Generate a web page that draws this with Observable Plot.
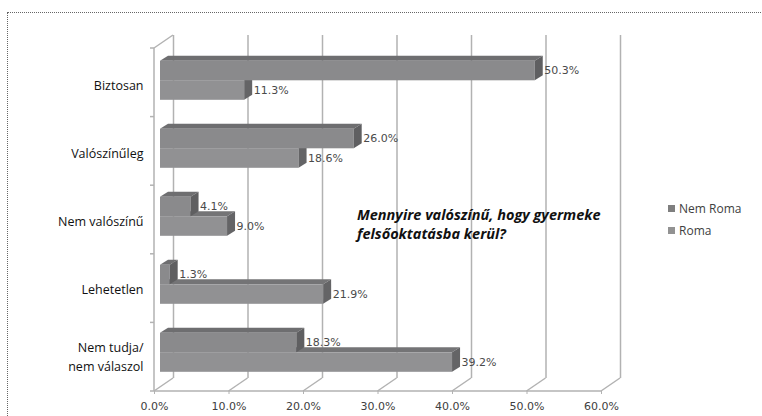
<!DOCTYPE html>
<html><head><meta charset="utf-8">
<script src="https://cdn.jsdelivr.net/npm/d3@7"></script>
<script src="https://cdn.jsdelivr.net/npm/@observablehq/plot@0.6"></script>
<style>
body{margin:0;background:#fff}
#wrap{position:relative;width:762px;height:416px;overflow:hidden}
#border{position:absolute;left:7px;top:12px;width:800px;height:500px;border:1px dotted #666;box-sizing:border-box}
#chart{position:absolute;left:0;top:0}
#title{position:absolute;left:357px;top:205px;font:italic bold 14.5px "Open Sans",sans-serif;line-height:19px;color:#111;white-space:nowrap}
#legend{position:absolute;left:668px;top:198px;font:12px "Open Sans",sans-serif;color:#404040}
#legend div{height:22px;line-height:22px;white-space:nowrap}
#legend span{display:inline-block;width:7px;height:7px;margin-right:4px;vertical-align:middle;position:relative;top:-1px}
</style></head>
<body><div id="wrap"><div id="border"></div><div id="chart"></div><div id="title"></div><div id="legend"></div></div>
<script>
const categories = ["Biztosan", "Valószínűleg", "Nem valószínű", "Lehetetlen", "Nem tudja/\nnem válaszol"];
const seriesNames = ["Nem Roma", "Roma"];
const nemRoma = [50.3, 26.0, 4.1, 1.3, 18.3];
const roma = [11.3, 18.6, 9.0, 21.9, 39.2];
const xTicks = [0, 10, 20, 30, 40, 50, 60];
const titleLines = ["Mennyire valószínű, hogy gyermeke", "felsőoktatásba kerül?"];

const rows = (vals, s) => categories.map((c, i) => ({category: c, series: s, value: vals[i]}));
const dataNem = rows(nemRoma, seriesNames[0]);
const dataRoma = rows(roma, seriesNames[1]);

const palette = {
  "Nem Roma": {front: "#8a8a8c", top: "#6e6e70", side: "#5f5f61", legend: "#7f7f7f"},
  "Roma": {front: "#919193", top: "#747476", side: "#646466", legend: "#929292"}
};

const W = 762, H = 416, mL = 154, mR = 161, mT = 48, mB = 25;
const WALL = [19, -13], PLANE = [6, -4], DEPTH = [8, -5];
const bw = (H - mT - mB) / categories.length;
const gap = 14.8 / 68.6, barFrac = 19.5 / 68.6;
const grid = "#b2b2b2";

function bar3d(pal, f0, f1) {
  return (index, scales, values, dim) => {
    const g = d3.create("svg:g");
    const band = (dim.height - dim.marginTop - dim.marginBottom) / categories.length;
    for (const i of index) {
      const X0 = values.x1[i] + PLANE[0], XE = values.x2[i] + PLANE[0];
      const yT = values.y[i] + band * f0 + PLANE[1], yB = values.y[i] + band * f1 + PLANE[1];
      const [dx, dy] = DEPTH;
      g.append("polygon").attr("fill", pal.top)
        .attr("points", [[X0, yT], [XE, yT], [XE + dx, yT + dy], [X0 + dx, yT + dy]].join(" "));
      g.append("rect").attr("fill", pal.front).attr("x", X0).attr("y", yT).attr("width", XE - X0).attr("height", yB - yT);
      g.append("polygon").attr("fill", pal.side)
        .attr("points", [[XE, yT], [XE + dx, yT + dy], [XE + dx, yB + dy], [XE, yB]].join(" "));
    }
    return g.node();
  };
}

const frameLines = (index, scales, values, dim) => {
  const g = d3.create("svg:g").attr("stroke", grid).attr("stroke-width", 1.5).attr("fill", "none");
  const yb = dim.height - dim.marginBottom, yt = dim.marginTop;
  const xs = Array.from(index, i => values.x[i]);
  const band = (yb - yt) / categories.length;
  for (const x of xs) {
    g.append("line").attr("x1", x).attr("y1", yb).attr("x2", x + WALL[0]).attr("y2", yb + WALL[1]);
  }
  g.append("line").attr("x1", xs[0]).attr("x2", xs[xs.length - 1]).attr("y1", yb).attr("y2", yb);
  g.append("line").attr("x1", xs[0]).attr("x2", xs[0]).attr("y1", yt).attr("y2", yb);
  g.append("line").attr("x1", xs[0]).attr("y1", yt).attr("x2", xs[0] + WALL[0]).attr("y2", yt + WALL[1]);
  for (let k = 0; k <= categories.length; k++) {
    g.append("line").attr("x1", xs[0] - 4).attr("x2", xs[0]).attr("y1", yt + k * band).attr("y2", yt + k * band);
  }
  return g.node();
};

const fmt = v => v.toFixed(1) + "%";
const labelDx = PLANE[0] + DEPTH[0] + 1;
const dyNem = bw * (gap + barFrac / 2) + PLANE[1] - bw / 2;
const dyRoma = bw * (gap + 1.5 * barFrac) + PLANE[1] - bw / 2;

const chart = Plot.plot({
  width: W, height: H,
  marginLeft: mL, marginRight: mR, marginTop: mT, marginBottom: mB,
  style: {fontFamily: "DejaVu Sans", fontSize: "11px", background: "transparent", overflow: "visible"},
  x: {domain: [0, 60]},
  y: {domain: categories, padding: 0},
  marks: [
    Plot.ruleX(xTicks, {x: d => d, stroke: grid, strokeWidth: 1.5, dx: WALL[0], dy: WALL[1]}),
    Plot.ruleX(xTicks, {x: d => d, render: frameLines}),
    Plot.barX(dataRoma, {x1: 0, x2: "value", y: "category", render: bar3d(palette["Roma"], gap + barFrac, gap + 2 * barFrac)}),
    Plot.barX(dataNem, {x1: 0, x2: "value", y: "category", render: bar3d(palette["Nem Roma"], gap, gap + barFrac)}),
    Plot.text(dataNem, {x: "value", y: "category", text: d => fmt(d.value), dx: labelDx, dy: dyNem, textAnchor: "start", fill: "#4a4a4a", fontSize: 11}),
    Plot.text(dataRoma, {x: "value", y: "category", text: d => fmt(d.value), dx: labelDx, dy: dyRoma, textAnchor: "start", fill: "#4a4a4a", fontSize: 11}),
    Plot.axisX(xTicks, {tickFormat: fmt, tickSize: 3, tickPadding: 8, stroke: grid, fill: "#404040", fontSize: 11, label: null}),
    Plot.axisY({tickSize: 0, tickPadding: 11, fontFamily: "Open Sans", fontSize: 12.5, fill: "#111", lineHeight: 1.55, dy: -1, label: null})
  ]
});
document.getElementById("chart").appendChild(chart);

document.getElementById("title").innerHTML = titleLines.join("<br>");
const legend = document.getElementById("legend");
for (const s of seriesNames) {
  const row = document.createElement("div");
  const sw = document.createElement("span");
  sw.style.background = palette[s].legend;
  row.appendChild(sw);
  row.appendChild(document.createTextNode(s));
  legend.appendChild(row);
}
</script>
</body></html>
